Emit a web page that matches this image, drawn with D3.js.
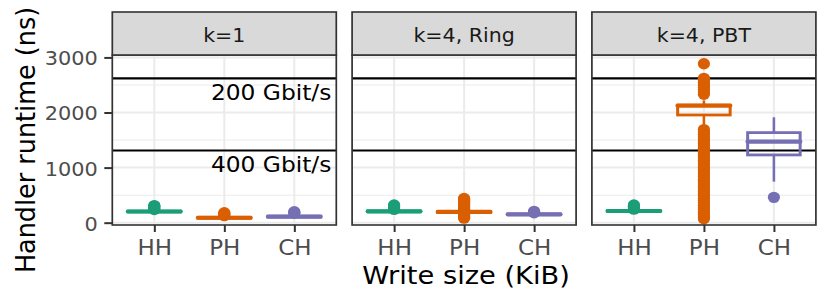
<!DOCTYPE html>
<html>
<head>
<meta charset="utf-8">
<script src="https://cdn.jsdelivr.net/npm/d3@7"></script>
<style>
  html, body { margin: 0; padding: 0; background: #fff; }
  svg { display: block; font-family: "DejaVu Sans", sans-serif; }
</style>
</head>
<body>
<div id="chart"></div>
<script>
const panels = ["k=1", "k=4, Ring", "k=4, PBT"];
const handlers = ["HH", "PH", "CH"];
const handlerColors = ["#1B9E77", "#D95F02", "#7570B3"];
const yTicks = [0, 1000, 2000, 3000];
const yMinorTicks = [500, 1500, 2500];
const rateLabels = ["200 Gbit/s", "400 Gbit/s"];
const rateValues = [2621.44, 1310.72];

// box stats: one row per panel, one value per handler (HH, PH, CH)
const q1 = [[195, 80, 102], [198, 188, 145], [205, 1955, 1230]];
const median = [[203, 90, 110], [206, 195, 152], [212, 2125, 1470]];
const q3 = [[210, 98, 118], [213, 203, 158], [218, 2132, 1635]];
const whiskerLo = [[185, 72, 96], [190, 180, 140], [198, 1775, 745]];
const whiskerHi = [[225, 110, 126], [226, 212, 166], [230, 2220, 1913]];

// outliers per panel, per handler
const outliersK1 = [
  [240, 262, 283, 300, 310],
  [128, 148, 165, 180],
  [172, 188, 198]
];
const outliersRing = [
  [242, 268, 296, 320],
  [82, 98, 114, 128, 144, 160, 174, 228, 246, 266, 288, 306, 326, 348, 366, 388, 408, 424, 440],
  [180, 194, 205]
];
const outliersPBT = [
  [246, 272, 298, 320],
  [72, 105, 150, 190, 236, 270, 318, 356, 402, 441, 489, 530, 572, 615, 660, 701, 748, 790,
   835, 872, 918, 960, 1004, 1047, 1090, 1133, 1178, 1220, 1262, 1305, 1350, 1392, 1436,
   1478, 1520, 1562, 1605, 1648, 1690, 2330, 2372, 2415, 2458, 2500, 2545, 2588, 2620, 2885],
  [460]
];
const outliers = [outliersK1, outliersRing, outliersPBT];

// the reference is slightly stretched sideways, so draw in a narrower viewBox
const S = 1.07;
const W = 830, H = 308;
const X = px => px / S;

const panelLeft = X(112.3);
const panelW = X(224);
const gapW = X(15.8);
const stripTop = 12, panelTop = 55, panelBottom = 225;

const svg = d3.select("#chart")
  .append("svg")
  .attr("width", W)
  .attr("height", H)
  .attr("viewBox", `0 0 ${W / S} ${H}`)
  .attr("preserveAspectRatio", "none");

const y = d3.scaleLinear()
  .domain([-42, 3044])
  .range([panelBottom, panelTop]);

panels.forEach((name, i) => {
  const g = svg.append("g")
    .attr("transform", `translate(${panelLeft + i * (panelW + gapW)}, 0)`);

  const x = d3.scalePoint()
    .domain(handlers)
    .range([0, panelW])
    .padding(0.6);

  // grid
  g.selectAll(".minor")
    .data(yMinorTicks)
    .join("line")
    .attr("x1", 0).attr("x2", panelW)
    .attr("y1", d => y(d)).attr("y2", d => y(d))
    .attr("stroke", "#EBEBEB")
    .attr("stroke-width", 1);

  g.selectAll(".major")
    .data(yTicks)
    .join("line")
    .attr("x1", 0).attr("x2", panelW)
    .attr("y1", d => y(d)).attr("y2", d => y(d))
    .attr("stroke", "#EBEBEB")
    .attr("stroke-width", 2);

  g.selectAll(".vgrid")
    .data(handlers)
    .join("line")
    .attr("x1", d => x(d)).attr("x2", d => x(d))
    .attr("y1", panelTop).attr("y2", panelBottom)
    .attr("stroke", "#EBEBEB")
    .attr("stroke-width", 2 / S);

  // bandwidth limits
  g.selectAll(".rate")
    .data(rateValues)
    .join("line")
    .attr("x1", 0).attr("x2", panelW)
    .attr("y1", d => y(d)).attr("y2", d => y(d))
    .attr("stroke", "black")
    .attr("stroke-width", 2.2);

  if (i === 0) {
    g.selectAll(".rate-label")
      .data(rateValues)
      .join("text")
      .attr("x", panelW - X(5))
      .attr("y", d => y(d) + 21.8)
      .attr("text-anchor", "end")
      .attr("font-size", 21.8)
      .attr("fill", "black")
      .text((d, k) => rateLabels[k]);
  }

  // boxplots
  const bw = 0.75 * x.step();
  handlers.forEach((h, j) => {
    const cx = x(h);
    const col = handlerColors[j];
    const bg = g.append("g");

    bg.append("line")
      .attr("x1", cx).attr("x2", cx)
      .attr("y1", y(whiskerHi[i][j])).attr("y2", y(q3[i][j]))
      .attr("stroke", col).attr("stroke-width", 2.4);
    bg.append("line")
      .attr("x1", cx).attr("x2", cx)
      .attr("y1", y(q1[i][j])).attr("y2", y(whiskerLo[i][j]))
      .attr("stroke", col).attr("stroke-width", 2.4);

    bg.append("rect")
      .attr("x", cx - bw / 2)
      .attr("y", y(q3[i][j]))
      .attr("width", bw)
      .attr("height", y(q1[i][j]) - y(q3[i][j]))
      .attr("fill", "none")
      .attr("stroke", col)
      .attr("stroke-width", 2.8);

    bg.append("line")
      .attr("x1", cx - bw / 2).attr("x2", cx + bw / 2)
      .attr("y1", y(median[i][j])).attr("y2", y(median[i][j]))
      .attr("stroke", col)
      .attr("stroke-width", 4.2)
      .attr("stroke-linecap", "round");

    bg.selectAll("circle")
      .data(outliers[i][j])
      .join("circle")
      .attr("cx", cx)
      .attr("cy", d => y(d))
      .attr("r", 5.7)
      .attr("fill", col);
  });

  // panel border
  g.append("rect")
    .attr("x", 0).attr("y", panelTop)
    .attr("width", panelW).attr("height", panelBottom - panelTop)
    .attr("fill", "none")
    .attr("stroke", "#333333")
    .attr("stroke-width", 1.6);

  // strip
  g.append("rect")
    .attr("x", 0).attr("y", stripTop)
    .attr("width", panelW).attr("height", panelTop - stripTop)
    .attr("fill", "#D9D9D9")
    .attr("stroke", "#333333")
    .attr("stroke-width", 1.6);

  g.append("text")
    .attr("x", panelW / 2)
    .attr("y", 41.8)
    .attr("text-anchor", "middle")
    .attr("font-size", 19.2)
    .attr("fill", "#1A1A1A")
    .text(name);

  // x axis
  const xAxis = g.append("g")
    .attr("transform", `translate(0, ${panelBottom})`)
    .call(d3.axisBottom(x).tickSize(7).tickPadding(8).tickSizeOuter(0));
  xAxis.select(".domain").remove();
  xAxis.selectAll("line").attr("stroke", "#333333").attr("stroke-width", 2 / S);
  xAxis.selectAll("text")
    .attr("font-size", 21.5)
    .attr("font-family", "DejaVu Sans, sans-serif")
    .attr("fill", "#4D4D4D");

  // y axis (first panel only)
  if (i === 0) {
    const yAxis = g.append("g")
      .call(d3.axisLeft(y).tickValues(yTicks).tickFormat(d3.format("d"))
        .tickSize(X(8)).tickPadding(X(6.5)).tickSizeOuter(0));
    yAxis.select(".domain").remove();
    yAxis.selectAll("line").attr("stroke", "#333333").attr("stroke-width", 2);
    yAxis.selectAll("text")
      .attr("font-size", 19.5)
      .attr("font-family", "DejaVu Sans, sans-serif")
      .attr("dy", "0.38em")
      .attr("fill", "#4D4D4D");
  }
});

// axis titles
svg.append("text")
  .attr("x", X((112.3 + 815.9) / 2 + 2))
  .attr("y", 284)
  .attr("text-anchor", "middle")
  .attr("font-size", 25.5)
  .attr("fill", "black")
  .text("Write size (KiB)");

svg.append("text")
  .attr("transform", `translate(${X(35)}, 140) rotate(-90)`)
  .attr("text-anchor", "middle")
  .attr("font-size", 25.5)
  .attr("fill", "black")
  .text("Handler runtime (ns)");
</script>
</body>
</html>
